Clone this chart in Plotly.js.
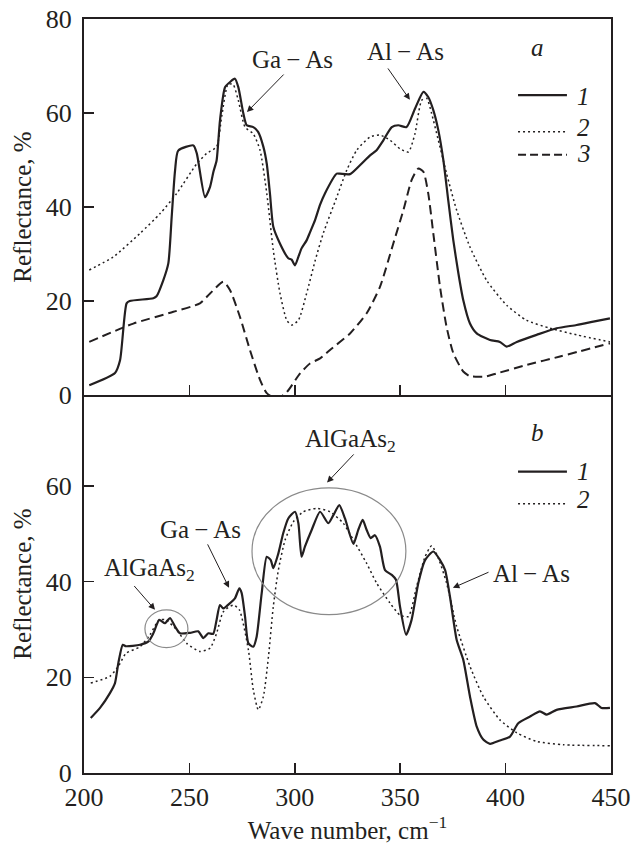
<!DOCTYPE html>
<html>
<head>
<meta charset="utf-8">
<script src="https://cdn.plot.ly/plotly-3.0.1.min.js"></script>
<style>html,body{margin:0;padding:0;background:#fff;}#chart{width:635px;height:846px;}</style>
</head>
<body>
<div id="chart"></div>
<script>
// ---- Panel a (top) ----
var a1_x = [202.5,214.7,217.1,220.2,221.7,232.9,234.4,237.6,240,241.6,243.2,244.7,251.9,253.5,257.4,259.8,261.4,262.9,264.5,266.9,269.3,271.6,273.2,275.6,277.2,280.3,282.6,285.1,286.7,288.2,289.8,293,296.9,298.5,300.1,301.7,303.2,305.6,307.2,309.6,312,314.3,319.9,321.4,326.2,330.9,335.7,338.8,342,346,349.1,353,357,361,363.3,365.7,368.1,370.5,372.8,375.2,377.6,379.9,383.1,386.3,392.6,397.3,400.5,405.3,414.7,424.2,433.7,441.6,449.5];
var a1_y = [2.1,4.7,7.4,19.5,20,20.6,21,24.4,28,37.9,47.8,52,53.1,51.4,42.1,44.3,47.5,49.9,58.4,65.5,66.6,67.3,65.5,59.9,57.4,57,56,52.8,49.2,42.9,35.8,32.2,29.1,28.8,27.6,29.4,31.2,32.9,34.6,37.2,40.5,42.9,47.1,47.1,47,48.9,51,52.1,54.2,57,57.4,57,60.9,64.5,63.4,60.6,56.3,49.9,41.4,32.9,25.9,20.2,15.2,13.1,11.7,11.3,10.3,11.3,12.8,14.2,14.9,15.6,16.3];

var a2_x = [202.5,213.9,226.6,236.1,244,253.5,258.2,262.9,265.3,268.4,270.8,273.2,276.4,280.3,283.5,286.7,289.8,293,296.2,298.5,301.7,305.6,309.6,313.5,319.9,324.6,329.4,335.7,340.4,345.2,349.9,353.9,357,360.2,362.6,364.9,368.1,372,376.8,383.1,391,400.5,410,421.1,433.7,449.5];
var a2_y = [26.6,29.4,34.4,38.6,42.9,49.2,51.4,52.8,59.2,66.2,66,62.7,57,55.6,52.1,42.9,30.8,21.6,15.9,14.9,15.9,21.6,28.5,34.4,42.1,47.8,52.1,54.9,55.3,54.2,52.4,51.7,55.6,62.7,63.1,59.9,54.2,47.1,39.3,31.5,24.4,19.1,15.9,14.2,12.8,11.3];

var a3_x = [202.5,223.4,242.4,255,259.8,266.1,269.3,274,278.7,283.5,286.7,291.5,296,302.5,307.2,312,316.7,326.2,334.1,340.4,346.7,351.5,355.4,358.6,361,363.3,365.7,368.9,372,375.2,379.9,383.1,386.3,390,395.8,410,425.8,449.5];
var a3_y = [11.3,15.2,17.7,19.5,21.6,24.1,22.3,16.6,9.6,3.2,0.4,-0.8,0.5,4.6,6.7,7.8,9.6,13.1,17.4,23,32.2,39.3,45.7,48.2,47.5,42.9,34.4,23,14.5,8.9,5,4,3.9,3.9,4.6,6.4,8.2,11];

// ---- Panel b (bottom) ----
var b1_x = [203.2,207.6,212.3,214.7,216.3,218.4,219.9,226.6,230.6,232.9,235.7,238.4,240.8,243.2,245.5,250.3,254.2,256.6,259,261.3,262.9,264.5,266.1,269.3,271.6,273.7,274.8,276.4,278,280.3,281.9,284.3,286.7,288.6,289.8,292.2,294.5,296.9,300.1,301.7,303.2,304.8,308,312,315.9,318.3,321.1,323.8,327.8,330.1,332.2,334.1,336,338,340.4,342.8,346,348,349.9,352.8,355.4,358.6,361.8,365.7,368.9,371.3,373.6,376.8,379.9,383.1,386.3,389.4,392.6,397.3,402.1,406,411.6,416.3,419.5,424.2,433.7,442.4,445.5,449.5];
var b1_y = [11.5,13.6,16.7,18.8,23,26.8,26.5,26.8,27.5,29.2,32,31.3,32.4,30.6,29.2,29.3,29.6,28.2,29.2,29.1,32,35.1,34.4,35.5,36.5,38.6,37.6,32.7,27.1,26.4,28.5,37.6,45.2,44.5,42.8,45.9,50.1,53.2,54.6,52.2,45.2,47.3,50.8,54.6,52.2,53.9,56,53.2,47.9,50.8,52.9,50.8,49.1,49.7,47.3,42.4,41.4,40.4,34.8,28.9,32,39.7,44.5,46.3,44.5,42.4,36.9,27.8,23.7,16,9.7,7,6.1,6.8,7.6,10.4,11.8,12.9,12.2,13.2,13.9,14.6,13.6,13.6];

var b2_x = [203.2,212.3,216.3,219.9,226.6,231.3,235.7,238.8,244,248.7,255,259.8,262.9,266.1,270.8,273.7,278,280.3,282.7,285.1,287.5,289.8,292.2,295.4,299.3,304,310.4,316.7,323,327.8,334.1,338.8,345.2,349.9,353.9,357.8,361.8,364.9,368.1,372,376.8,383.1,389.4,397.3,405.3,414.7,427.4,449.5];
var b2_y = [18.8,20.2,22.3,25,26.4,28.9,32,32,29.9,27.1,25.4,26.1,29.2,33.7,35.1,34.1,25.7,17.4,13.2,16,24.3,34.8,42.4,48.7,52.5,54.6,55.3,54.6,52.2,48.7,43.8,39.7,35.5,33,32.7,39,45.2,47.5,44.9,39.7,30.6,22.3,16,11.1,8.4,6.6,5.9,5.7];

var xTicks = [200,250,300,350,400,450];
var yTicksA = [0,20,40,60,80];
var yTicksB = [0,20,40,60];

var INK = '#231f20';
var FONT = 'Liberation Serif';

function tr(x, y, xa, ya, w, dash) {
  return {x:x, y:y, xaxis:xa, yaxis:ya, type:'scatter', mode:'lines',
    line:{color:INK, width:w, dash:dash, shape:'spline', smoothing:0.6}, hoverinfo:'skip'};
}
var data = [
  tr(a2_x, a2_y, 'x2', 'y2', 1.5, '2px,3px'),
  tr(a3_x, a3_y, 'x2', 'y2', 2, '9px,5px'),
  tr(a1_x, a1_y, 'x2', 'y2', 2.2, 'solid'),
  tr(b2_x, b2_y, 'x', 'y', 1.5, '2px,3px'),
  tr(b1_x, b1_y, 'x', 'y', 2.2, 'solid')
];

function xax(extra) {
  var o = {range:[200,450], tickvals:xTicks, ticks:'inside', ticklen:10, tickwidth:1.5, tickcolor:INK,
    showline:true, linewidth:2, linecolor:INK, mirror:true, showgrid:false, zeroline:false,
    tickfont:{family:FONT, size:26, color:INK}, ticklabelstandoff:0};
  for (var k in extra) o[k] = extra[k];
  return o;
}
function yax(extra) {
  var o = {ticks:'inside', ticklen:10, tickwidth:1.5, tickcolor:INK,
    showline:true, linewidth:2, linecolor:INK, mirror:true, showgrid:false, zeroline:false,
    tickfont:{family:FONT, size:26, color:INK}, ticklabelstandoff:5,
    title:{text:'Reflectance, %', font:{family:FONT, size:25, color:INK}, standoff:7}};
  for (var k in extra) o[k] = extra[k];
  return o;
}

var annFont = {family:FONT, size:25, color:INK};
function txt(x, y, xr, yr, s) {
  return {x:x, y:y, xref:xr, yref:yr, text:s, showarrow:false, font:annFont, xanchor:'center', yanchor:'middle'};
}
function arr(hx, hy, tx, ty, xr, yr) {
  return {x:hx, y:hy, ax:tx, ay:ty, xref:xr, yref:yr, axref:xr, ayref:yr, text:'', showarrow:true,
    arrowhead:2, arrowsize:1.3, arrowwidth:1, arrowcolor:INK, standoff:0, startstandoff:0};
}

var annotations = [
  txt(298.7, 71.3, 'x2', 'y2', 'Ga\u2009\u2212\u2009As'),
  arr(277.3, 60.2, 295.4, 68.5, 'x2', 'y2'),
  txt(352.3, 73.0, 'x2', 'y2', 'Al\u2009\u2212\u2009As'),
  arr(354.6, 62.8, 343.7, 69.8, 'x2', 'y2'),
  txt(414.9, 74.0, 'x2', 'y2', '<i>a</i>'),
  {x:433.0, y:63.6, xref:'x2', yref:'y2', text:'<i>1</i>', showarrow:false, font:annFont, xanchor:'left'},
  {x:433.0, y:57.0, xref:'x2', yref:'y2', text:'<i>2</i>', showarrow:false, font:annFont, xanchor:'left'},
  {x:433.0, y:51.3, xref:'x2', yref:'y2', text:'<i>3</i>', showarrow:false, font:annFont, xanchor:'left'},

  txt(414.9, 71.1, 'x', 'y', '<i>b</i>'),
  {x:433.0, y:63.0, xref:'x', yref:'y', text:'<i>1</i>', showarrow:false, font:annFont, xanchor:'left'},
  {x:433.0, y:57.1, xref:'x', yref:'y', text:'<i>2</i>', showarrow:false, font:annFont, xanchor:'left'},
  txt(326.2, 69.4, 'x', 'y', 'AlGaAs<sub>2</sub>'),
  arr(315.3, 60.7, 328.6, 66.9, 'x', 'y'),
  txt(231.3, 42.5, 'x', 'y', 'AlGaAs<sub>2</sub>'),
  arr(233.7, 34.1, 223.2, 39.4, 'x', 'y'),
  txt(255.5, 50.8, 'x', 'y', 'Ga\u2009\u2212\u2009As'),
  arr(268.8, 38.7, 258.3, 48.1, 'x', 'y'),
  txt(412.5, 41.6, 'x', 'y', 'Al\u2009\u2212\u2009As'),
  arr(375.0, 38.7, 392.6, 42.1, 'x', 'y')
];

var shapes = [
  {type:'line', xref:'x2', yref:'y2', x0:405.9, x1:429.1, y0:63.8, y1:63.8, line:{color:INK, width:2.2}},
  {type:'line', xref:'x2', yref:'y2', x0:405.9, x1:429.1, y0:56.0, y1:56.0, line:{color:INK, width:1.5, dash:'2px,3px'}},
  {type:'line', xref:'x2', yref:'y2', x0:405.9, x1:429.1, y0:51.1, y1:51.1, line:{color:INK, width:2, dash:'8px,4px'}},
  {type:'line', xref:'x', yref:'y', x0:405.9, x1:429.1, y0:63.0, y1:63.0, line:{color:INK, width:2.2}},
  {type:'line', xref:'x', yref:'y', x0:405.9, x1:429.1, y0:56.3, y1:56.3, line:{color:INK, width:1.5, dash:'2px,3px'}},
  {type:'circle', xref:'x', yref:'y', x0:279.7, x1:352.7, y0:33.1, y1:59.6, line:{color:'#8a8a8a', width:1.2}},
  {type:'circle', xref:'x', yref:'y', x0:228.9, x1:249.3, y0:26.2, y1:34.1, line:{color:'#8a8a8a', width:1.2}}
];

var layout = {
  width:635, height:846,
  margin:{l:84, r:24, t:19, b:73, pad:0},
  paper_bgcolor:'#fff', plot_bgcolor:'#fff',
  showlegend:false,
  font:{family:FONT, size:26, color:INK},
  xaxis: xax({anchor:'y', domain:[0,1], mirror:false,
    title:{text:'Wave number, cm<sup>\u22121</sup>', font:{family:FONT, size:25, color:INK}, standoff:9}}),
  xaxis2: xax({anchor:'y2', domain:[0,1], matches:'x', showticklabels:false}),
  yaxis: yax({anchor:'x', domain:[0,0.5013], range:[0,79], tickvals:yTicksB}),
  yaxis2: yax({anchor:'x2', domain:[0.5013,1], range:[0,80], tickvals:yTicksA}),
  annotations: annotations,
  shapes: shapes
};

Plotly.newPlot('chart', data, layout, {staticPlot:true, displayModeBar:false});
</script>
</body>
</html>
